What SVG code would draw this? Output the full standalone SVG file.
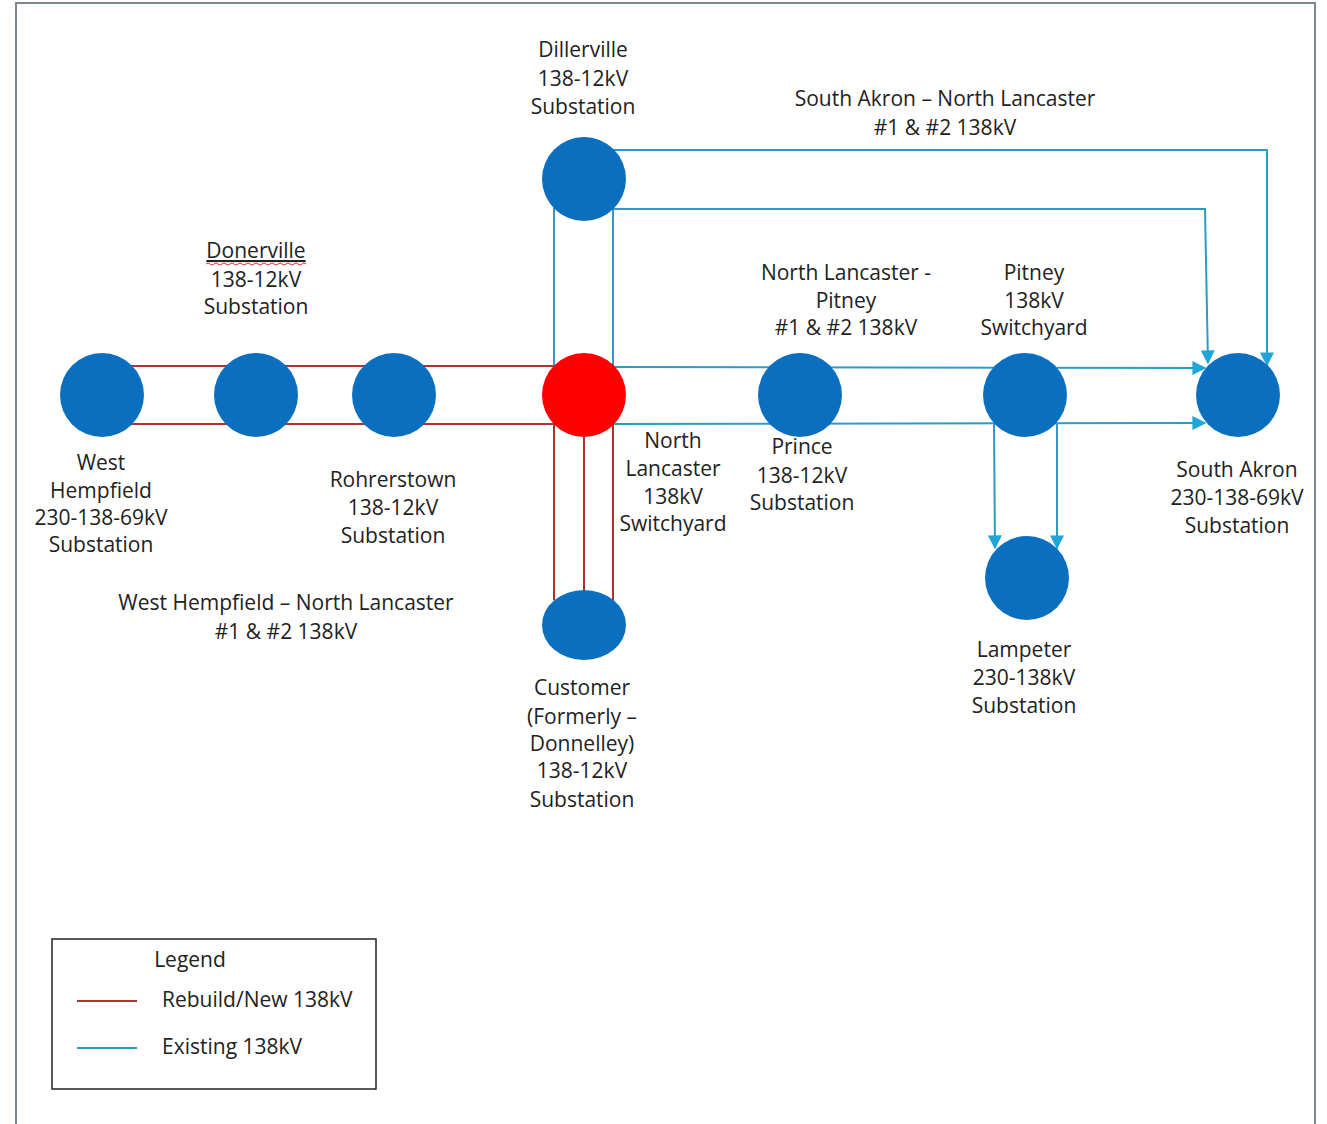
<svg xmlns="http://www.w3.org/2000/svg" width="1327" height="1124" viewBox="0 0 1327 1124">
<style>
text{font-family:"Open Sans","Liberation Sans",sans-serif;font-size:21px;fill:#222;text-anchor:middle}
.red{stroke:#b0302e;stroke-width:2;fill:none}
.blue{stroke:#2c9cc6;stroke-width:2;fill:none}
.node{fill:#0b6fc0}
.lt{text-anchor:start}
</style>
<defs>
<marker id="arr" viewBox="0 0 10 10" refX="9" refY="5" markerWidth="14" markerHeight="14" markerUnits="userSpaceOnUse" orient="auto">
<path d="M0,0 L10,5 L0,10 z" fill="#1fa5d8"/>
</marker>
</defs>
<rect width="1327" height="1124" fill="#fff"/>
<path d="M16,1124 V3 H1315 V1124" fill="none" stroke="#7a8790" stroke-width="2"/>
<g id="connectors">
<line class="red" x1="102" y1="366" x2="554" y2="366"/>
<line class="red" x1="102" y1="424" x2="554" y2="424"/>
<line class="red" x1="554" y1="424" x2="554" y2="600"/>
<line class="red" x1="584" y1="430" x2="584" y2="592"/>
<line class="red" x1="613" y1="424" x2="613" y2="600"/>
<line class="blue" x1="554" y1="208" x2="554" y2="366"/>
<line class="blue" x1="613" y1="208" x2="613" y2="366"/>
<polyline class="blue" points="613,150 1267,150 1267,365" marker-end="url(#arr)"/>
<polyline class="blue" points="613,209 1205,209 1208,363" marker-end="url(#arr)"/>
<line class="blue" x1="613" y1="367" x2="1205" y2="368" marker-end="url(#arr)"/>
<line class="blue" x1="613" y1="424" x2="1205" y2="423" marker-end="url(#arr)"/>
<line class="blue" x1="994" y1="424" x2="995" y2="548" marker-end="url(#arr)"/>
<line class="blue" x1="1057" y1="424" x2="1057" y2="548" marker-end="url(#arr)"/>
</g>
<g id="dillerville"><circle class="node" cx="584" cy="179" r="42"/>
<text x="583" y="57">Dillerville</text><text x="583" y="86">138-12kV</text><text x="583" y="114">Substation</text></g>
<g id="north-lancaster"><circle cx="584" cy="395" r="42" fill="#ff0000"/>
<text x="673" y="448">North</text><text x="673" y="476">Lancaster</text><text x="673" y="504">138kV</text><text x="673" y="531">Switchyard</text></g>
<g id="west-hempfield"><circle class="node" cx="102" cy="395" r="42"/>
<text x="101" y="470">West</text><text x="101" y="498">Hempfield</text><text x="101" y="525">230-138-69kV</text><text x="101" y="552">Substation</text></g>
<g id="donerville"><circle class="node" cx="256" cy="395" r="42"/>
<text x="256" y="258" text-decoration="underline">Donerville</text>
<path d="M206,264 q2,-2 4,0 t4,0 t4,0 t4,0 t4,0 t4,0 t4,0 t4,0 t4,0 t4,0 t4,0 t4,0 t4,0 t4,0 t4,0 t4,0 t4,0 t4,0 t4,0 t4,0 t4,0 t4,0 t4,0 t4,0 t4,0" fill="none" stroke="#e03030" stroke-width="1"/>
<text x="256" y="287">138-12kV</text><text x="256" y="314">Substation</text></g>
<g id="rohrerstown"><circle class="node" cx="394" cy="395" r="42"/>
<text x="393" y="487">Rohrerstown</text><text x="393" y="515">138-12kV</text><text x="393" y="543">Substation</text></g>
<g id="prince"><circle class="node" cx="800" cy="395" r="42"/>
<text x="802" y="454">Prince</text><text x="802" y="483">138-12kV</text><text x="802" y="510">Substation</text></g>
<g id="pitney"><circle class="node" cx="1025" cy="395" r="42"/>
<text x="1034" y="280">Pitney</text><text x="1034" y="308">138kV</text><text x="1034" y="335">Switchyard</text></g>
<g id="south-akron"><circle class="node" cx="1238" cy="395" r="42"/>
<text x="1237" y="477">South Akron</text><text x="1237" y="505">230-138-69kV</text><text x="1237" y="533">Substation</text></g>
<g id="lampeter"><circle class="node" cx="1027" cy="578" r="42"/>
<text x="1024" y="657">Lampeter</text><text x="1024" y="685">230-138kV</text><text x="1024" y="713">Substation</text></g>
<g id="customer"><ellipse class="node" cx="584" cy="625" rx="42" ry="35"/>
<text x="582" y="695">Customer</text><text x="582" y="724">(Formerly –</text><text x="582" y="751">Donnelley)</text><text x="582" y="778">138-12kV</text><text x="582" y="807">Substation</text></g>
<g id="labels">
<text x="945" y="106">South Akron – North Lancaster</text><text x="945" y="135">#1 &amp; #2 138kV</text>
<text x="846" y="280">North Lancaster -</text><text x="846" y="308">Pitney</text><text x="846" y="335">#1 &amp; #2 138kV</text>
<text x="286" y="610">West Hempfield – North Lancaster</text><text x="286" y="639">#1 &amp; #2 138kV</text>
</g>
<g id="legend">
<rect x="52" y="939" width="324" height="150" fill="#fff" stroke="#222" stroke-width="1.5"/>
<text x="190" y="967">Legend</text>
<line class="red" x1="77" y1="1001" x2="137" y2="1001"/>
<text class="lt" x="162" y="1007">Rebuild/New 138kV</text>
<line class="blue" x1="77" y1="1048" x2="137" y2="1048"/>
<text class="lt" x="162" y="1054">Existing 138kV</text>
</g>
</svg>
